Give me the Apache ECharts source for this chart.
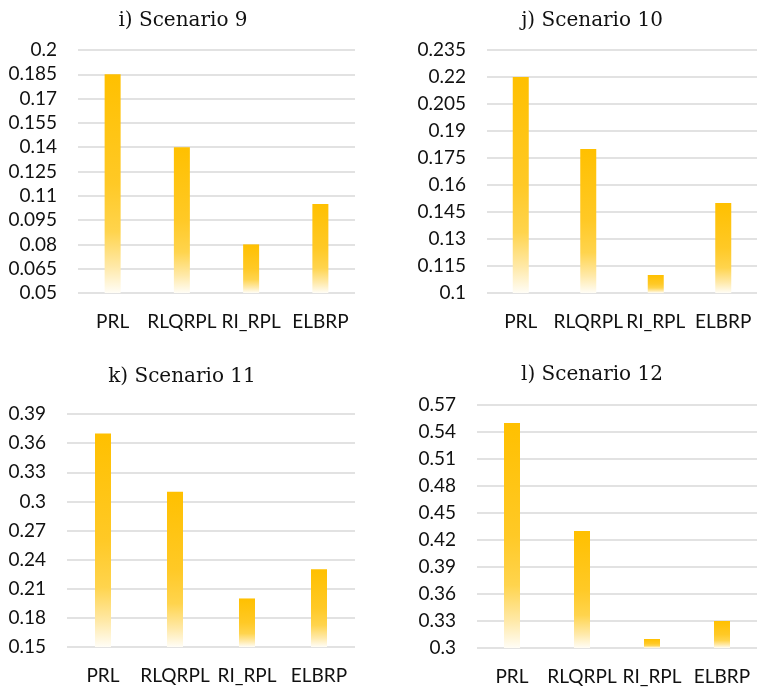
<!DOCTYPE html>
<html>
<head>
<meta charset="utf-8">
<script src="https://cdn.jsdelivr.net/npm/echarts@6/dist/echarts.min.js"></script>
<style>
html,body{margin:0;padding:0;background:#fff;}
#chart{width:757px;height:689px;}
</style>
</head>
<body>
<div id="chart"></div>
<script>
const categories = ['PRL', 'RLQRPL', 'RI_RPL', 'ELBRP'];
const titles = ['i) Scenario 9', 'j) Scenario 10', 'k) Scenario 11', 'l) Scenario 12'];
const scenario9 = [0.185, 0.14, 0.08, 0.105];
const scenario10 = [0.22, 0.18, 0.11, 0.15];
const scenario11 = [0.37, 0.31, 0.20, 0.23];
const scenario12 = [0.55, 0.43, 0.31, 0.33];
const yMin = [0.05, 0.1, 0.15, 0.3];
const yMax = [0.2, 0.235, 0.39, 0.57];
const yStep = [0.015, 0.015, 0.03, 0.03];

const seriesData = [scenario9, scenario10, scenario11, scenario12];

const grids = [
  {left: 78, right: 402, top: 50, height: 243},
  {left: 487, right: -8, top: 50, height: 243},
  {left: 67, right: 402, top: 414, height: 233},
  {left: 477, right: -8, top: 405, height: 243}
];
const titlePos = [
  {x: 178, y: 6},
  {x: 587, y: 6},
  {x: 177, y: 362},
  {x: 587, y: 360}
];

const barColor = new echarts.graphic.LinearGradient(0, 0, 0, 1, [
  {offset: 0, color: '#FFC000'},
  {offset: 0.5, color: '#FFC926'},
  {offset: 0.72, color: '#FFD44D'},
  {offset: 0.88, color: '#FFE9A8'},
  {offset: 1, color: '#FFFDF6'}
]);

const option = {
  backgroundColor: '#fff',
  animation: false,
  title: titles.map((t, i) => ({
    text: t,
    left: titlePos[i].x,
    top: titlePos[i].y,
    textAlign: 'center',
    textStyle: {fontFamily: 'DejaVu Serif', fontSize: 20, fontWeight: 'normal', color: '#111'}
  })),
  grid: grids,
  xAxis: grids.map((g, i) => ({
    type: 'category',
    gridIndex: i,
    data: categories,
    axisLine: {show: false},
    axisTick: {show: false},
    axisLabel: {margin: 19, fontFamily: 'Lato', fontSize: 19, color: '#111', interval: 0}
  })),
  yAxis: grids.map((g, i) => ({
    type: 'value',
    gridIndex: i,
    min: yMin[i],
    max: yMax[i],
    interval: yStep[i],
    axisLine: {show: false},
    axisTick: {show: false},
    splitLine: {lineStyle: {color: '#D9D9D9', width: 1.5}},
    axisLabel: {
      margin: 21,
      fontFamily: 'Lato',
      fontSize: 19,
      color: '#111',
      formatter: v => String(+v.toFixed(3))
    }
  })),
  series: seriesData.map((d, i) => ({
    type: 'bar',
    xAxisIndex: i,
    yAxisIndex: i,
    data: d,
    barWidth: 16,
    itemStyle: {color: barColor}
  }))
};

const chart = echarts.init(document.getElementById('chart'), null, {renderer: 'canvas'});
chart.setOption(option);
</script>
</body>
</html>
